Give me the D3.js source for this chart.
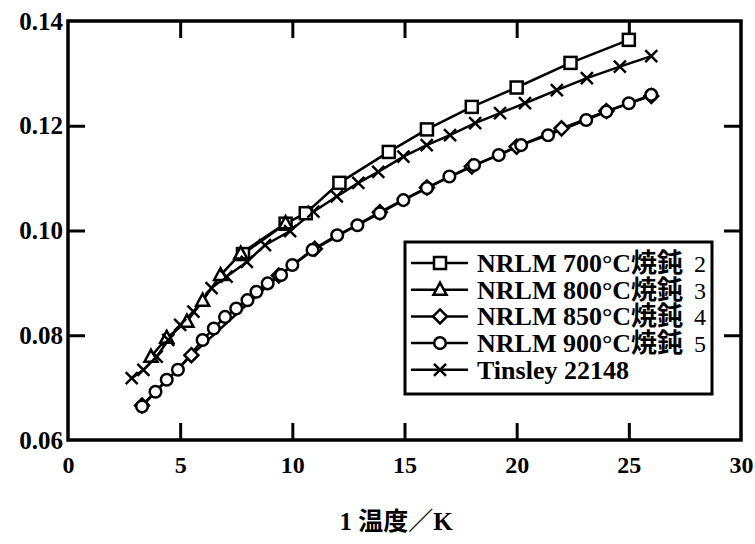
<!DOCTYPE html>
<html><head><meta charset="utf-8">
<script src="https://cdn.jsdelivr.net/npm/d3@7"></script>
<style>body{margin:0;background:#fff}svg{display:block}</style>
</head><body>
<script>
const xTicks = [0, 5, 10, 15, 20, 25, 30];
const yTicks = [0.06, 0.08, 0.10, 0.12, 0.14];

const s700x = [7.8, 9.7, 10.6, 12.1, 14.3, 16.0, 18.0, 20.0, 22.4, 25.0];
const s700y = [0.0955, 0.1013, 0.1033, 0.1091, 0.1150, 0.1193, 0.1236, 0.1273, 0.1320, 0.1364];

const s800x = [3.7, 4.4, 5.3, 6.0, 6.8, 7.7, 9.7];
const s800y = [0.0759, 0.0795, 0.0826, 0.0866, 0.0915, 0.0956, 0.1014];

const s850x = [3.3, 5.5, 9.4, 11.0, 13.9, 16.0, 18.0, 20.0, 22.0, 24.0, 26.0];
const s850y = [0.0666, 0.0762, 0.0914, 0.0965, 0.1035, 0.1082, 0.1122, 0.1160, 0.1195, 0.1228, 0.1257];

const s900x = [3.3, 3.9, 4.4, 4.9, 6.0, 6.5, 7.0, 7.5, 8.0, 8.4, 8.9, 9.5, 10.0, 10.9, 12.0, 12.9, 13.9, 14.95, 16.0, 17.0, 18.1, 19.2, 20.2, 21.4, 23.1, 24.0, 25.0, 26.0];
const s900y = [0.0664, 0.0692, 0.0715, 0.0734, 0.0791, 0.0813, 0.0835, 0.0851, 0.0867, 0.0883, 0.0899, 0.0915, 0.0934, 0.0963, 0.0991, 0.1010, 0.1033, 0.1058, 0.1081, 0.1103, 0.1125, 0.1144, 0.1163, 0.1182, 0.1211, 0.1227, 0.1243, 0.1259];

const tinX = [2.84, 3.36, 3.95, 4.47, 5.0, 5.59, 6.4, 7.07, 7.97, 8.78, 9.9, 10.94, 11.98, 12.94, 13.83, 14.95, 15.99, 17.03, 18.15, 19.26, 20.37, 21.79, 23.13, 24.6, 26.0];
const tinY = [0.0718, 0.0734, 0.0759, 0.0791, 0.0820, 0.0845, 0.0890, 0.0912, 0.0940, 0.0972, 0.0999, 0.1036, 0.1065, 0.1091, 0.1112, 0.1141, 0.1163, 0.1182, 0.1205, 0.1224, 0.1243, 0.1268, 0.1291, 0.1313, 0.1333];

const seriesNames = ["NRLM 700°C焼鈍", "NRLM 800°C焼鈍", "NRLM 850°C焼鈍", "NRLM 900°C焼鈍", "Tinsley 22148"];
const seriesRefs = ["2", "3", "4", "5", ""];
const seriesMarkers = ["square", "triangle", "diamond", "circle", "cross"];
const xTitle = "1 温度／K";

const W = 755, H = 544;
const svg = d3.select("body").append("svg").attr("width", W).attr("height", H);
const x = d3.scaleLinear().domain([0, 30]).range([68, 741]);
const y = d3.scaleLinear().domain([0.06, 0.14]).range([440, 21]);

const series = [
  {xs: s700x, ys: s700y}, {xs: s800x, ys: s800y}, {xs: s850x, ys: s850y},
  {xs: s900x, ys: s900y}, {xs: tinX, ys: tinY}
].map((s, i) => ({pts: s.xs.map((v, j) => [v, s.ys[j]]), marker: seriesMarkers[i], name: seriesNames[i], ref: seriesRefs[i]}));

const SW = 2.5;
function drawMarker(g, type, cx, cy) {
  let el;
  if (type === "square") el = g.append("rect").attr("x", cx - 6).attr("y", cy - 6).attr("width", 12).attr("height", 12).attr("fill", "#fff");
  else if (type === "circle") el = g.append("circle").attr("cx", cx).attr("cy", cy).attr("r", 5.8).attr("fill", "#fff");
  else if (type === "triangle") el = g.append("path").attr("d", `M${cx},${cy-7}L${cx+6.5},${cy+5}L${cx-6.5},${cy+5}Z`).attr("fill", "#fff");
  else if (type === "diamond") el = g.append("path").attr("d", `M${cx},${cy-7}L${cx+7},${cy}L${cx},${cy+7}L${cx-7},${cy}Z`).attr("fill", "#fff");
  else el = g.append("path").attr("d", `M${cx-6},${cy-6}L${cx+6},${cy+6}M${cx+6},${cy-6}L${cx-6},${cy+6}`).attr("fill", "none");
  el.attr("stroke", "#000").attr("stroke-width", SW);
}

// axes
const axStyle = g => {
  g.select(".domain").remove();
  g.selectAll(".tick line").attr("stroke", "#000").attr("stroke-width", 3);
};
const tickLen = 17;
svg.append("g").attr("transform", `translate(0,440)`)
  .call(d3.axisBottom(x).tickValues(xTicks).tickSize(-tickLen).tickPadding(16).tickFormat(d3.format("d")))
  .call(axStyle)
  .call(g => g.selectAll(".tick").filter(d => d === 0 || d === 30).select("line").remove())
  .call(g => g.selectAll("text").attr("font-family", "Liberation Serif").attr("font-weight", "bold").attr("font-size", 24).attr("fill", "#000"));
svg.append("g").attr("transform", `translate(0,21)`)
  .call(d3.axisTop(x).tickValues(xTicks.slice(1, -1)).tickSize(-tickLen).tickFormat(""))
  .call(axStyle);
svg.append("g").attr("transform", `translate(68,0)`)
  .call(d3.axisLeft(y).tickValues(yTicks).tickSize(-tickLen).tickPadding(5).tickFormat(d3.format(".2f")))
  .call(axStyle)
  .call(g => g.selectAll(".tick").filter(d => d === 0.06 || d === 0.14).select("line").remove())
  .call(g => g.selectAll("text").attr("font-family", "Liberation Serif").attr("font-weight", "bold").attr("font-size", 25).attr("fill", "#000"));
svg.append("g").attr("transform", `translate(741,0)`)
  .call(d3.axisRight(y).tickValues(yTicks.slice(1, -1)).tickSize(-tickLen).tickFormat(""))
  .call(axStyle);

svg.append("rect").attr("x", x(0)).attr("y", y(0.14)).attr("width", x(30) - x(0)).attr("height", y(0.06) - y(0.14))
  .attr("fill", "none").attr("stroke", "#000").attr("stroke-width", 3.5);

// series
const line = d3.line().x(d => x(d[0])).y(d => y(d[1]));
series.forEach(s => {
  svg.append("path").attr("d", line(s.pts)).attr("fill", "none").attr("stroke", "#000").attr("stroke-width", SW);
});
series.forEach(s => {
  const g = svg.append("g");
  s.pts.forEach(p => drawMarker(g, s.marker, x(p[0]), y(p[1])));
});

// legend
const lg = svg.append("g");
lg.append("rect").attr("x", 405).attr("y", 242).attr("width", 307).attr("height", 152)
  .attr("fill", "#fff").attr("stroke", "#000").attr("stroke-width", 3);
series.forEach((s, i) => {
  const cy = 263 + i * 26.7;
  lg.append("line").attr("x1", 411).attr("x2", 468).attr("y1", cy).attr("y2", cy).attr("stroke", "#000").attr("stroke-width", SW);
  drawMarker(lg, s.marker, 440, cy);
  lg.append("text").attr("x", 477).attr("y", cy + 9).attr("font-family", "Liberation Serif, Noto Sans CJK JP")
    .attr("font-size", 26).attr("font-weight", 600).attr("fill", "#000").text(s.name);
  if (s.ref) lg.append("text").attr("x", 694).attr("y", cy + 9).attr("font-family", "Liberation Serif")
    .attr("font-size", 24).attr("fill", "#000").text(s.ref);
});

// x title
svg.append("text").attr("x", 396).attr("y", 530).attr("text-anchor", "middle")
  .attr("font-family", "Liberation Serif, Noto Sans CJK JP").attr("font-weight", "bold").attr("font-size", 25)
  .attr("fill", "#000").text(xTitle);
</script>
</body></html>
